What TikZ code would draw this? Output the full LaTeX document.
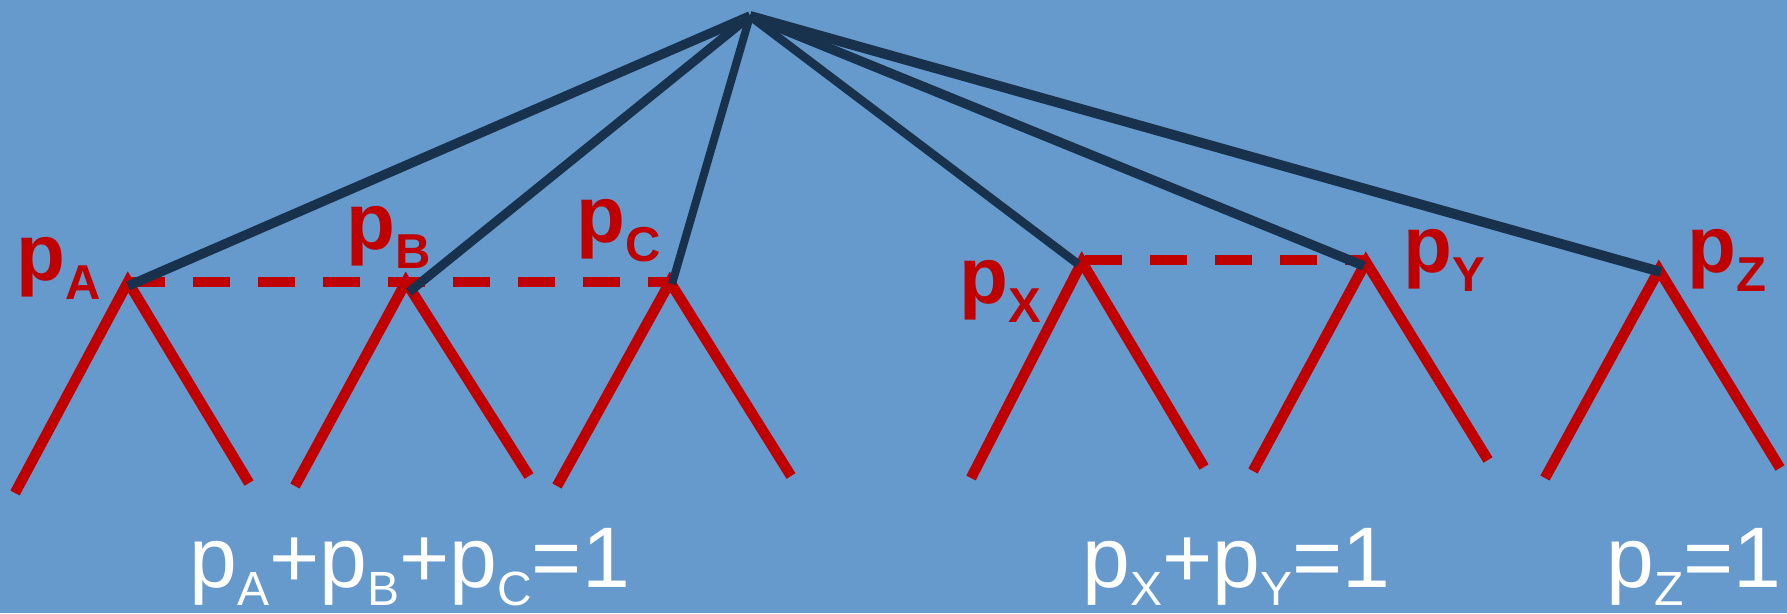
\documentclass[tikz,border=0pt]{standalone}
\usepackage{fontspec}
\setmainfont{Liberation Sans}
\definecolor{bg}{RGB}{102,153,204}
\definecolor{redl}{RGB}{192,0,0}
\definecolor{darkl}{RGB}{24,50,78}
\newcommand{\redsub}[1]{\lower19pt\hbox{\fontsize{49}{50}\selectfont #1}}
\newcommand{\whsub}[1]{\lower18pt\hbox{\fontsize{48}{50}\selectfont #1}}
\begin{document}
\begin{tikzpicture}[x=1pt,y=-1pt,
  branch/.style={draw=redl,line width=10.5pt,line join=miter},
  infoset/.style={draw=redl,line width=10pt,dash pattern=on 37pt off 28pt},
  edge/.style={draw=darkl,line width=9pt},
  plabel/.style={text=redl,font=\bfseries\fontsize{80}{82}\selectfont,anchor=base west,inner sep=0pt},
  eqlabel/.style={text=white,font=\fontsize{86}{90}\selectfont,anchor=base west,inner sep=0pt}]
\fill[bg] (0,0) rectangle (1787,613);
\useasboundingbox (0,0) rectangle (1787,613);

% nodes of the tree
\coordinate (root) at (750,16);
\coordinate (A) at (128,282);
\coordinate (B) at (406,282);
\coordinate (C) at (670,282);
\coordinate (X) at (1082,262);
\coordinate (Y) at (1366,262);
\coordinate (Z) at (1659,270);
% leaves
\coordinate (a1) at (15,493);  \coordinate (a2) at (249,483);
\coordinate (b1) at (295,486); \coordinate (b2) at (529,476);
\coordinate (c1) at (557,486); \coordinate (c2) at (791,476);
\coordinate (x1) at (971,478); \coordinate (x2) at (1204,467);
\coordinate (y1) at (1253,471); \coordinate (y2) at (1488,460);
\coordinate (z1) at (1545,478); \coordinate (z2) at (1780,468);
% information-set endpoints
\coordinate (Xd) at (1085,260);
\coordinate (Yd) at (1368,260);

% red subtrees
\draw[branch] (a1) -- (A) -- (a2);
\draw[branch] (b1) -- (B) -- (b2);
\draw[branch] (c1) -- (C) -- (c2);
\draw[branch] (x1) -- (X) -- (x2);
\draw[branch] (y1) -- (Y) -- (y2);
\draw[branch] (z1) -- (Z) -- (z2);

% information sets
\draw[infoset] (A) -- (C);
\draw[infoset] (Xd) -- (Yd);

% dark edges from the root
\draw[edge,line width=9.5pt] (root) -- ([yshift=-4pt]A);
\draw[edge] (root) -- ([shift={(3pt,-10pt)}]B);
\draw[edge,line width=8pt] (root) -- ([shift={(2pt,-2pt)}]C);
\draw[edge,line width=8.5pt] (root) -- ([shift={(-4pt,-2pt)}]X);
\draw[edge,line width=9.5pt] (root) -- ([shift={(-2pt,-4pt)}]Y);
\draw[edge,line width=10pt] (root) -- ([shift={(2pt,-2pt)}]Z);

% red labels
\node[plabel] (lA) at (16,280) {p\redsub{A}};
\node[plabel] (lB) at (346,249) {p\redsub{B}};
\node[plabel] (lC) at (576,242) {p\redsub{C}};
\node[plabel] (lX) at (959,303) {p\redsub{X}};
\node[plabel] (lY) at (1403,272) {p\redsub{Y}};
\node[plabel] (lZ) at (1687,272) {p\redsub{Z}};

% equations
\node[eqlabel] (e1) at (189,587) {p\whsub{A}+p\whsub{B}+p\whsub{C}=1};
\node[eqlabel] (e2) at (1082,587) {p\whsub{X}+p\whsub{Y}=1};
\node[eqlabel] (e3) at (1606,587) {p\whsub{Z}=1};
\end{tikzpicture}
\end{document}
